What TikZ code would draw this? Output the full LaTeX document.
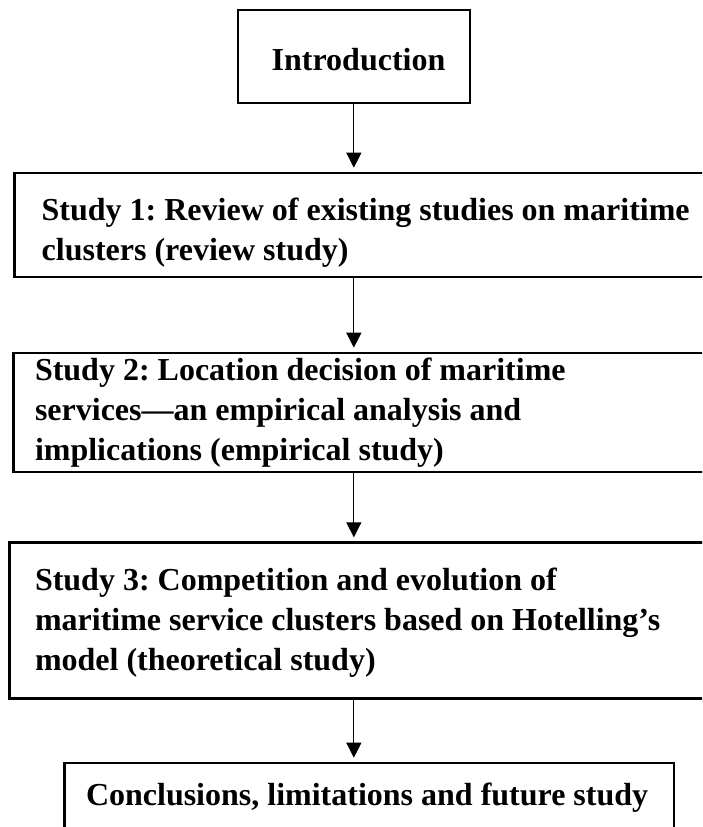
\documentclass[tikz,border=0pt]{standalone}
\usepackage{fontspec}
\setmainfont{Liberation Serif}
\usetikzlibrary{arrows.meta}
\frenchspacing
\begin{document}
\begin{tikzpicture}[x=1pt,y=-1pt,
  box/.style={draw, line width=2.4pt, inner sep=0pt, outer sep=0pt, anchor=north west},
  txt/.style={inner sep=0pt, outer sep=0pt, anchor=base west, align=left,
    font=\fontsize{32}{40}\selectfont\bfseries\frenchspacing},
  arr/.style={line width=1.2pt, -{Triangle[length=15pt,width=15pt]},
    shorten <=1.5pt, shorten >=5pt}]
\useasboundingbox (0,0) rectangle (702,827);
\clip (0,0) rectangle (702,827);
% boxes
\node[box, minimum width=232.3pt, minimum height=92.7pt] (intro) at (237.7,10) {};
\node[box, minimum width=715.7pt, minimum height=104pt] (s1) at (14.3,172.7) {};
\node[box, minimum width=716.7pt, minimum height=119pt] (s2) at (13.3,352.7) {};
\node[box, minimum width=720.7pt, minimum height=156pt] (s3) at (9.3,542.3) {};
\node[box, minimum width=609.7pt, minimum height=97.3pt] (concl) at (64.3,762.7) {};
% texts (base anchor = baseline of last line)
\node[txt] (introt) at (271.7,70.7) {Introduction};
\node[txt] (s1t) at (41.7,260) {Study 1: Review of existing studies on maritime\\clusters (review study)};
\node[txt] (s2t) at (35,460.7) {Study 2: Location decision of maritime\\services—an empirical analysis and\\implications (empirical study)};
\node[txt] (s3t) at (35,670.7) {Study 3: Competition and evolution of\\maritime service clusters based on Hotelling’s\\model (theoretical study)};
\node[txt] (conclt) at (86,805) {Conclusions, limitations and future study};
% connectors
\draw[arr] (intro.south) -- (intro.south |- s1.north);
\draw[arr] (intro.south |- s1.south) -- (intro.south |- s2.north);
\draw[arr] (intro.south |- s2.south) -- (intro.south |- s3.north);
\draw[arr] (intro.south |- s3.south) -- (intro.south |- concl.north);
\end{tikzpicture}
\end{document}
